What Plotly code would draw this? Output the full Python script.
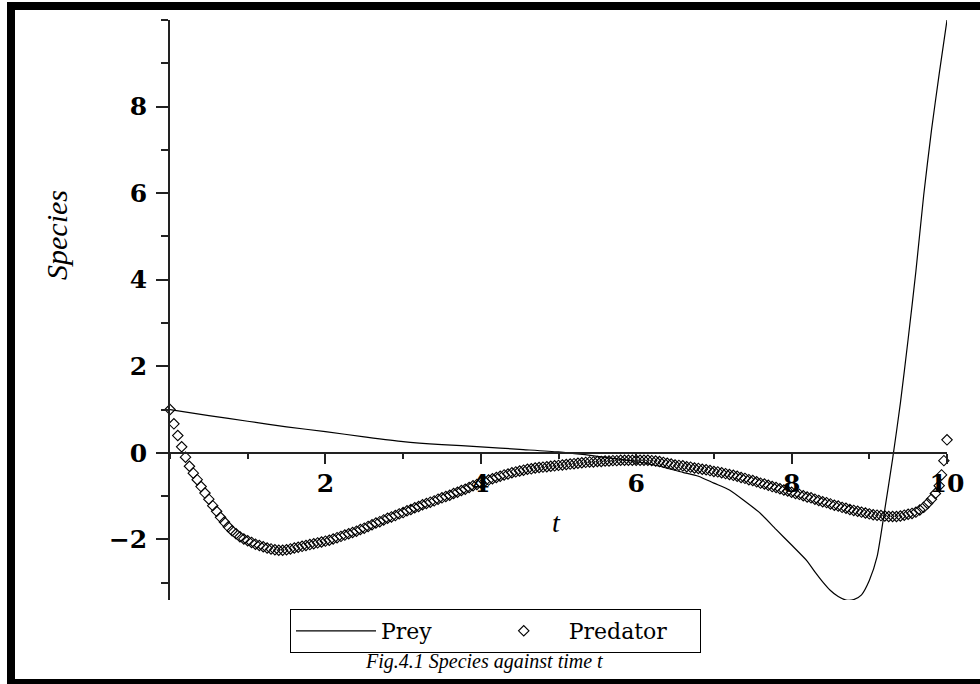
import plotly.graph_objects as go

# ---------------- data ----------------
prey_t = [0.0, 0.5, 1.0, 1.5, 2.0, 2.5, 3.0, 3.5, 4.0, 4.5, 5.0, 5.5, 6.0, 6.3, 6.6,
          6.8, 7.0, 7.2, 7.4, 7.6, 7.8, 8.0, 8.2, 8.3, 8.4, 8.5, 8.6, 8.7, 8.8, 8.9,
          9.0, 9.1, 9.2, 9.3, 9.4, 9.5, 9.6, 9.7, 9.8, 9.9, 10.0]
prey_y = [1.00, 0.86, 0.73, 0.60, 0.49, 0.37, 0.26, 0.19, 0.14, 0.08, 0.02, -0.08, -0.20, -0.31, -0.45,
          -0.54, -0.70, -0.86, -1.12, -1.40, -1.77, -2.13, -2.50, -2.75, -2.98, -3.18, -3.32, -3.40, -3.39, -3.28,
          -2.95, -2.40, -1.30, -0.14, 1.15, 2.63, 4.20, 5.95, 7.45, 8.76, 10.0]

pred_y = [
    1.00, 0.67, 0.40, 0.14, -0.10, -0.31, -0.47, -0.62, -0.78, -0.93,
    -1.07, -1.22, -1.35, -1.49, -1.60, -1.71, -1.80, -1.87, -1.94, -1.99,
    -2.03, -2.07, -2.11, -2.14, -2.17, -2.20, -2.22, -2.24, -2.25, -2.25,
    -2.24, -2.22, -2.20, -2.18, -2.16, -2.14, -2.12, -2.10, -2.08, -2.06,
    -2.04, -2.02, -1.99, -1.96, -1.93, -1.90, -1.87, -1.84, -1.81, -1.77,
    -1.74, -1.70, -1.66, -1.62, -1.59, -1.55, -1.51, -1.48, -1.45, -1.41,
    -1.38, -1.34, -1.31, -1.27, -1.24, -1.20, -1.17, -1.14, -1.11, -1.07,
    -1.04, -1.01, -0.98, -0.94, -0.91, -0.87, -0.84, -0.80, -0.76, -0.73,
    -0.69, -0.66, -0.63, -0.60, -0.57, -0.54, -0.51, -0.49, -0.46, -0.44,
    -0.42, -0.40, -0.38, -0.37, -0.35, -0.34, -0.33, -0.32, -0.31, -0.30,
    -0.29, -0.28, -0.27, -0.26, -0.25, -0.24, -0.23, -0.22, -0.21, -0.21,
    -0.20, -0.20, -0.19, -0.19, -0.18, -0.18, -0.17, -0.17, -0.17, -0.17,
    -0.17, -0.17, -0.17, -0.17, -0.18, -0.19, -0.20, -0.22, -0.24, -0.26,
    -0.28, -0.29, -0.30, -0.32, -0.33, -0.35, -0.36, -0.38, -0.39, -0.41,
    -0.43, -0.44, -0.46, -0.48, -0.50, -0.52, -0.54, -0.57, -0.59, -0.62,
    -0.64, -0.67, -0.70, -0.72, -0.75, -0.78, -0.80, -0.83, -0.86, -0.88,
    -0.91, -0.94, -0.96, -0.99, -1.02, -1.04, -1.07, -1.10, -1.13, -1.15,
    -1.18, -1.21, -1.23, -1.26, -1.28, -1.31, -1.33, -1.35, -1.37, -1.39,
    -1.41, -1.43, -1.44, -1.45, -1.46, -1.47, -1.47, -1.47, -1.46, -1.44,
    -1.42, -1.40, -1.37, -1.32, -1.26, -1.17, -1.07, -0.94, -0.76,
    -0.51, -0.18, 0.30,
]
# sampling grid of the predator points (step 0.05, plus the last few solver points)
pred_t = [round(0.05 * i, 2) for i in range(199)] + [9.93, 9.96, 10.0]

x_ticks = [2, 4, 6, 8, 10]
y_ticks = [-2, 0, 2, 4, 6, 8]

series_names = ["Prey", "Predator"]
x_title = "t"
y_title = "Species"
caption = "Fig.4.1 Species against time t"

# ---------------- layout geometry ----------------
W, H = 980, 684
L, R, T, B = 170, 33, 20, 84
PW, PH = W - L - R, H - T - B


def pxx(x):
    return (x - L) / PW


def pxy(y):
    return (H - B - y) / PH


NB = "\u00a0"

fig = go.Figure()
fig.add_trace(go.Scatter(
    x=prey_t, y=prey_y, mode="lines", name=series_names[0] + NB * 6,
    line=dict(color="black", width=1.2, shape="spline", smoothing=0.6), cliponaxis=False,
))
fig.add_trace(go.Scatter(
    x=pred_t, y=pred_y, mode="markers", name=series_names[1] + NB * 4,
    marker=dict(symbol="diamond-open", size=8, color="black", line=dict(width=1.1)),
    cliponaxis=False,
))

axis_col = "#222222"
tickfont = dict(family="DejaVu Serif", size=25, color="black", weight="bold")

fig.update_layout(
    width=W, height=H,
    margin=dict(l=L, r=R, t=T, b=B, pad=0),
    paper_bgcolor="white", plot_bgcolor="white",
    showlegend=True,
    legend=dict(
        orientation="h", x=pxx(290), y=pxy(609), xanchor="left", yanchor="top",
        bgcolor="white", bordercolor="black", borderwidth=1,
        font=dict(family="DejaVu Serif", size=22, color="black"),
        itemwidth=80, tracegroupgap=0, itemsizing="trace",
    ),
    xaxis=dict(
        range=[0, 10], anchor="free", position=3.4 / 13.4,
        showline=True, linecolor=axis_col, linewidth=1.5,
        showgrid=False, zeroline=False,
        tickmode="array", tickvals=x_ticks, ticks="outside", ticklen=10,
        tickwidth=1.5, tickcolor=axis_col, tickfont=tickfont, ticklabelstandoff=-2,
        minor=dict(dtick=1, tick0=0, ticks="outside", ticklen=5, tickwidth=1.5,
                   tickcolor=axis_col, showgrid=False),
    ),
    yaxis=dict(
        range=[-3.4, 10.0],
        showline=True, linecolor=axis_col, linewidth=1.5,
        showgrid=False, zeroline=False,
        tickmode="array", tickvals=y_ticks, ticks="outside", ticklen=12,
        tickwidth=1.5, tickcolor=axis_col, tickfont=tickfont, ticklabelstandoff=4,
        minor=dict(dtick=1, tick0=0, ticks="outside", ticklen=7, tickwidth=1.5,
                   tickcolor=axis_col, showgrid=False),
    ),
    annotations=[
        dict(text=y_title, xref="paper", yref="paper", x=pxx(56), y=pxy(235),
             textangle=-90, showarrow=False, xanchor="center", yanchor="middle",
             font=dict(family="Liberation Serif", size=30, style="italic", color="black")),
        dict(text=x_title, xref="x", yref="y", x=4.97, y=-1.62,
             showarrow=False, xanchor="center", yanchor="middle",
             font=dict(family="Liberation Serif", size=28, style="italic", color="black")),
        dict(text=caption, xref="paper", yref="paper", x=pxx(484), y=pxy(661),
             showarrow=False, xanchor="center", yanchor="middle",
             font=dict(family="Liberation Serif", size=20, style="italic", color="black")),
    ],
    shapes=[
        dict(type="rect", xref="paper", yref="paper", x0=pxx(7), x1=pxx(980),
             y0=pxy(2), y1=pxy(10), fillcolor="black", line=dict(width=0), layer="above"),
        dict(type="rect", xref="paper", yref="paper", x0=pxx(7), x1=pxx(15),
             y0=pxy(2), y1=pxy(684), fillcolor="black", line=dict(width=0), layer="above"),
        dict(type="rect", xref="paper", yref="paper", x0=pxx(7), x1=pxx(980),
             y0=pxy(679), y1=pxy(684), fillcolor="black", line=dict(width=0), layer="above"),
    ],
)

fig.write_html(
    "out.html",
    config={"displayModeBar": False},
    post_script="document.body.style.margin='0';document.body.style.overflow='hidden';",
)
